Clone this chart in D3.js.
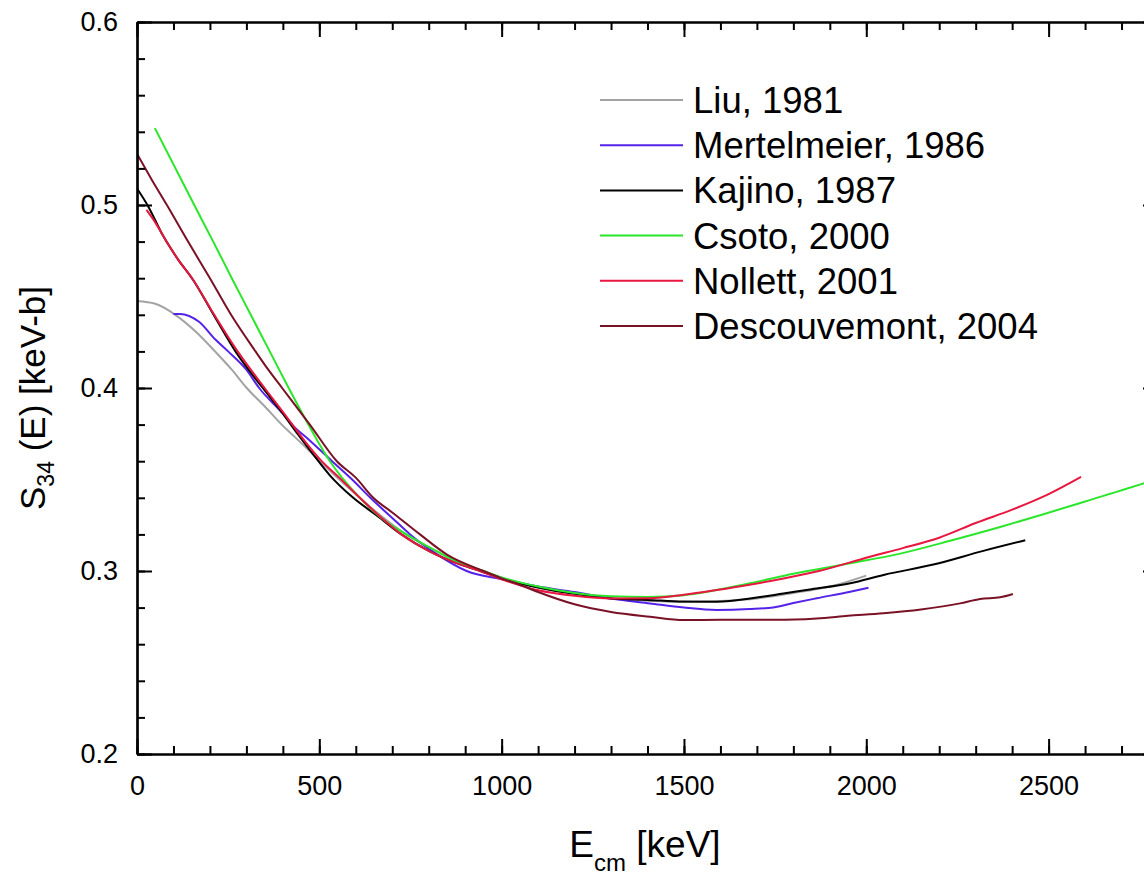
<!DOCTYPE html>
<html>
<head>
<meta charset="utf-8">
<script src="https://cdn.jsdelivr.net/npm/d3@7"></script>
<style>
  html, body { margin: 0; padding: 0; background: #fff; overflow: hidden; }
  svg { display: block; font-family: "Liberation Sans", Arial, sans-serif; }
</style>
</head>
<body>
<svg id="chart" width="1144" height="876"></svg>
<script>
// ---------- data ----------
const seriesNames = ["Liu, 1981", "Mertelmeier, 1986", "Kajino, 1987", "Csoto, 2000", "Nollett, 2001", "Descouvemont, 2004"];

const liuE = [0, 50, 105, 160, 214, 260, 301, 350, 397, 450, 502, 555, 611, 670, 730, 800, 880, 950, 1000, 1100, 1200, 1300, 1400, 1500, 1600, 1700, 1800, 1900, 2000];
const liuS = [0.4475, 0.446, 0.440, 0.431, 0.420, 0.410, 0.400, 0.390, 0.380, 0.370, 0.360, 0.350, 0.340, 0.330, 0.321, 0.313, 0.305, 0.300, 0.2965, 0.291, 0.2875, 0.285, 0.2838, 0.2830, 0.2836, 0.2850, 0.2880, 0.2915, 0.2975];

const mertE = [100, 118, 170, 215, 250, 300, 335, 400, 425, 470, 535, 590, 640, 700, 749, 820, 904, 1000, 1100, 1200, 1300, 1407, 1500, 1590, 1680, 1745, 1800, 1864, 1956, 2006];
const mertS = [0.4405, 0.4405, 0.4362, 0.4265, 0.420, 0.410, 0.400, 0.386, 0.380, 0.372, 0.360, 0.350, 0.340, 0.329, 0.320, 0.3095, 0.300, 0.2955, 0.2915, 0.2885, 0.285, 0.2823, 0.2800, 0.2787, 0.2792, 0.2801, 0.2825, 0.2851, 0.2887, 0.2909];

const kajE = [0, 30, 72, 110, 154, 210, 270, 345, 400, 440, 482, 530, 593, 660, 725, 800, 880, 941, 1000, 1100, 1200, 1300, 1400, 1500, 1590, 1700, 1773, 1850, 1956, 2050, 2184, 2321, 2436];
const kajS = [0.509, 0.4995, 0.483, 0.471, 0.459, 0.440, 0.420, 0.400, 0.386, 0.375, 0.364, 0.352, 0.340, 0.330, 0.320, 0.311, 0.304, 0.300, 0.2960, 0.291, 0.2875, 0.2850, 0.2842, 0.2833, 0.2832, 0.2855, 0.2877, 0.2900, 0.2933, 0.2980, 0.3035, 0.3110, 0.3168];

const csotoE = [49, 157, 209, 260, 312, 364, 416, 470, 529, 611, 670, 739, 820, 890, 950, 1000, 1100, 1200, 1300, 1400, 1500, 1681, 1800, 1956, 2093, 2230, 2367, 2477, 2600, 2762, 2800];
const csotoS = [0.542, 0.500, 0.480, 0.460, 0.440, 0.420, 0.400, 0.380, 0.360, 0.340, 0.329, 0.320, 0.311, 0.304, 0.300, 0.2965, 0.2915, 0.2880, 0.2862, 0.2858, 0.2868, 0.2933, 0.2985, 0.3042, 0.3095, 0.3165, 0.3240, 0.3305, 0.3380, 0.3480, 0.3505];

const nollE = [26, 50, 81, 115, 151, 212, 276, 350, 400, 460, 502, 560, 611, 665, 725, 800, 880, 941, 1000, 1100, 1200, 1300, 1407, 1500, 1590, 1680, 1773, 1870, 2010, 2100, 2200, 2300, 2400, 2500, 2589];
const nollS = [0.4973, 0.4905, 0.480, 0.4695, 0.460, 0.440, 0.420, 0.400, 0.387, 0.371, 0.361, 0.350, 0.340, 0.330, 0.320, 0.311, 0.304, 0.300, 0.2955, 0.2895, 0.2865, 0.2850, 0.2851, 0.2870, 0.2896, 0.2925, 0.2959, 0.3000, 0.3078, 0.3125, 0.3182, 0.3262, 0.3335, 0.3420, 0.3514];

const descE = [0, 40, 82, 140, 200, 258, 325, 360, 398, 474, 548, 600, 648, 700, 776, 850, 950, 1000, 1050, 1100, 1200, 1300, 1407, 1500, 1600, 1754, 1864, 1950, 2047, 2150, 2257, 2312, 2367, 2402];
const descS = [0.528, 0.514, 0.500, 0.480, 0.460, 0.440, 0.420, 0.410, 0.400, 0.380, 0.360, 0.351, 0.340, 0.332, 0.320, 0.309, 0.300, 0.296, 0.2925, 0.2885, 0.2818, 0.2776, 0.2750, 0.2732, 0.2733, 0.2733, 0.2741, 0.2755, 0.2769, 0.2790, 0.2823, 0.2847, 0.2856, 0.2874];

const xMajorTicks = [0, 500, 1000, 1500, 2000, 2500];
const yMajorTicks = [0.2, 0.3, 0.4, 0.5, 0.6];

const seriesE = [liuE, mertE, kajE, csotoE, nollE, descE];
const seriesS = [liuS, mertS, kajS, csotoS, nollS, descS];

// ---------- styles ----------
const colors = ["#a3a3a3", "#5522e8", "#000000", "#2be62b", "#e8173f", "#7a1226"];

// ---------- layout ----------
const svg = d3.select("#chart");
svg.append("rect").attr("width", 1144).attr("height", 876).attr("fill", "#fff");

const m = { left: 137, top: 22, right: 1158, bottom: 754 };
const x = d3.scaleLinear().domain([0, 2800]).range([m.left, m.right]);
const y = d3.scaleLinear().domain([0.2, 0.6]).range([m.bottom, m.top]);

const xMinor = d3.range(0, 2801, 100);
const yMinor = d3.range(0, 21).map(i => +(0.2 + i * 0.02).toFixed(2));

svg.append("clipPath").attr("id", "clip")
  .append("rect").attr("x", m.left).attr("y", m.top)
  .attr("width", m.right - m.left).attr("height", m.bottom - m.top);

// curves
const line = d3.line().x(d => x(d[0])).y(d => y(d[1])).curve(d3.curveMonotoneX);
const gCurves = svg.append("g").attr("clip-path", "url(#clip)");
seriesE.forEach((es, i) => {
  const pts = es.map((e, j) => [e, seriesS[i][j]]);
  gCurves.append("path").datum(pts)
    .attr("d", line).attr("fill", "none")
    .attr("stroke", colors[i]).attr("stroke-width", 2)
    .attr("stroke-linejoin", "round");
});

// axes
function styleAxis(g) {
  g.selectAll("path.domain").attr("stroke", "#000").attr("stroke-width", 2.2);
  g.selectAll(".tick line").attr("stroke", "#000").attr("stroke-width", 2);
  g.selectAll("text").attr("fill", "#000").style("font-size", "27px")
    .style("font-family", "'Liberation Sans', Arial, sans-serif");
}
const fmtNone = () => "";

// bottom
svg.append("g").attr("transform", `translate(0,${m.bottom})`)
  .call(d3.axisBottom(x).tickValues(xMinor).tickSize(-8).tickSizeOuter(0).tickFormat(fmtNone)).call(styleAxis);
svg.append("g").attr("transform", `translate(0,${m.bottom})`)
  .call(d3.axisBottom(x).tickValues(xMajorTicks).tickSize(-15).tickSizeOuter(0).tickPadding(22).tickFormat(d3.format("d"))).call(styleAxis);
// top
svg.append("g").attr("transform", `translate(0,${m.top})`)
  .call(d3.axisTop(x).tickValues(xMinor).tickSize(-8).tickSizeOuter(0).tickFormat(fmtNone)).call(styleAxis);
svg.append("g").attr("transform", `translate(0,${m.top})`)
  .call(d3.axisTop(x).tickValues(xMajorTicks).tickSize(-15).tickSizeOuter(0).tickFormat(fmtNone)).call(styleAxis);
// left
svg.append("g").attr("transform", `translate(${m.left},0)`)
  .call(d3.axisLeft(y).tickValues(yMinor).tickSize(-8).tickSizeOuter(0).tickFormat(fmtNone)).call(styleAxis);
svg.append("g").attr("transform", `translate(${m.left},0)`)
  .call(d3.axisLeft(y).tickValues(yMajorTicks).tickSize(-15).tickSizeOuter(0).tickPadding(19).tickFormat(d3.format(".1f"))).call(styleAxis);
// right
svg.append("g").attr("transform", `translate(${m.right},0)`)
  .call(d3.axisRight(y).tickValues(yMinor).tickSize(-8).tickSizeOuter(0).tickFormat(fmtNone)).call(styleAxis);
svg.append("g").attr("transform", `translate(${m.right},0)`)
  .call(d3.axisRight(y).tickValues(yMajorTicks).tickSize(-15).tickSizeOuter(0).tickFormat(fmtNone)).call(styleAxis);

// axis titles
const xt = svg.append("text").attr("x", 645).attr("y", 857).attr("text-anchor", "middle")
  .style("font-size", "37px").attr("fill", "#000");
xt.append("tspan").text("E");
xt.append("tspan").attr("dy", 14).style("font-size", "24px").text("cm");
xt.append("tspan").attr("dy", -14).text(" [keV]");

const yt = svg.append("text").attr("transform", "translate(45,398) rotate(-90)")
  .attr("text-anchor", "middle").style("font-size", "35px").attr("fill", "#000");
yt.append("tspan").text("S");
yt.append("tspan").attr("dy", 9).style("font-size", "23px").text("34");
yt.append("tspan").attr("dy", -9).text(" (E) [keV-b]");

// legend
const lg = svg.append("g");
seriesNames.forEach((name, i) => {
  const ly = 100 + i * 45.2;
  lg.append("line").attr("x1", 600).attr("x2", 683).attr("y1", ly).attr("y2", ly)
    .attr("stroke", colors[i]).attr("stroke-width", 2);
  lg.append("text").attr("x", 693).attr("y", ly + 13)
    .style("font-size", "36.5px").attr("fill", "#000").text(name);
});
</script>
</body>
</html>
